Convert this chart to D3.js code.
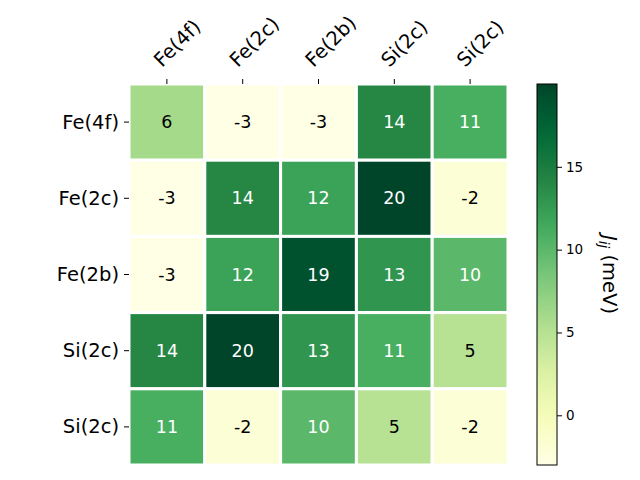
<!DOCTYPE html>
<html>
<head>
<meta charset="utf-8">
<script src="https://cdn.jsdelivr.net/npm/d3@7"></script>
<style>
  body { margin: 0; background: #fff; }
  text { font-family: "DejaVu Sans", sans-serif; }
</style>
</head>
<body>
<svg id="canvas" width="640" height="480"></svg>
<script>
const rowLabels = ["Fe(4f)", "Fe(2c)", "Fe(2b)", "Si(2c)", "Si(2c)"];
const colLabels = ["Fe(4f)", "Fe(2c)", "Fe(2b)", "Si(2c)", "Si(2c)"];
const values = [
  [6, -3, -3, 14, 11],
  [-3, 14, 12, 20, -2],
  [-3, 12, 19, 13, 10],
  [14, 20, 13, 11, 5],
  [11, -2, 10, 5, -2]
];
const cbTicks = [0, 5, 10, 15];
const vmin = -3, vmax = 20;

// matplotlib YlGn, linear segments
const ylgn = ["#ffffe5", "#f7fcb9", "#d9f0a3", "#addd8e", "#78c679", "#41ab5d", "#238443", "#006837", "#004529"];
const cmap = d3.scaleLinear()
  .domain(ylgn.map((d, i) => i / (ylgn.length - 1)))
  .range(ylgn)
  .interpolate(d3.interpolateRgb);
const norm = d3.scaleLinear().domain([vmin, vmax]).range([0, 1]).clamp(true);
const color = v => cmap(norm(v));

const svg = d3.select("#canvas");

const plotLeft = 129, plotTop = 84, plotW = 379, plotH = 381;

const x = d3.scaleBand().domain(d3.range(colLabels.length)).range([plotLeft, plotLeft + plotW]);
const y = d3.scaleBand().domain(d3.range(rowLabels.length)).range([plotTop, plotTop + plotH]);

const cells = [];
values.forEach((row, i) => row.forEach((v, j) => cells.push({ i, j, v })));

svg.append("g").selectAll("rect")
  .data(cells)
  .join("rect")
  .attr("x", d => x(d.j))
  .attr("y", d => y(d.i))
  .attr("width", x.bandwidth())
  .attr("height", y.bandwidth())
  .attr("fill", d => color(d.v))
  .attr("stroke", "white")
  .attr("stroke-width", 3);

svg.append("g").selectAll("text")
  .data(cells)
  .join("text")
  .attr("x", d => x(d.j) + x.bandwidth() / 2)
  .attr("y", d => y(d.i) + y.bandwidth() / 2)
  .attr("text-anchor", "middle")
  .attr("dominant-baseline", "central")
  .attr("font-size", "17.5px")
  .attr("fill", d => norm(d.v) > 0.5 ? "white" : "black")
  .text(d => d.v);

// top axis
const xAxis = svg.append("g");
colLabels.forEach((lab, j) => {
  const cx = x(j) + x.bandwidth() / 2;
  xAxis.append("line")
    .attr("x1", cx).attr("x2", cx)
    .attr("y1", plotTop - 5).attr("y2", plotTop)
    .attr("stroke", "black");
  xAxis.append("text")
    .attr("transform", `translate(${cx - 5}, ${plotTop - 16}) rotate(-45)`)
    .attr("font-size", "19.5px")
    .text(lab);
});

// left axis
const yAxis = svg.append("g");
rowLabels.forEach((lab, i) => {
  const cy = y(i) + y.bandwidth() / 2;
  yAxis.append("line")
    .attr("x1", plotLeft - 5).attr("x2", plotLeft)
    .attr("y1", cy).attr("y2", cy)
    .attr("stroke", "black");
  yAxis.append("text")
    .attr("x", plotLeft - 10)
    .attr("y", cy)
    .attr("text-anchor", "end")
    .attr("dominant-baseline", "central")
    .attr("font-size", "19.5px")
    .text(lab);
});

// colorbar
const cbX = 537, cbW = 20;
const cbScale = d3.scaleLinear().domain([vmin, vmax]).range([plotTop + plotH, plotTop]);
const grad = svg.append("defs").append("linearGradient")
  .attr("id", "cbgrad")
  .attr("x1", 0).attr("y1", 1).attr("x2", 0).attr("y2", 0);
d3.range(0, 1.0001, 0.05).forEach(t => {
  grad.append("stop").attr("offset", t).attr("stop-color", cmap(t));
});
svg.append("rect")
  .attr("x", cbX).attr("y", plotTop)
  .attr("width", cbW).attr("height", plotH)
  .attr("fill", "url(#cbgrad)")
  .attr("stroke", "black")
  .attr("stroke-width", 1);

const cbAxis = svg.append("g")
  .attr("transform", `translate(${cbX + cbW}, 0)`)
  .call(d3.axisRight(cbScale).tickValues(cbTicks).tickSize(5).tickPadding(4));
cbAxis.select(".domain").remove();
cbAxis.selectAll("text").attr("font-size", "13.5px").attr("font-family", "DejaVu Sans, sans-serif");

const cbLabel = svg.append("text")
  .attr("transform", `translate(603, ${plotTop + plotH / 2}) rotate(90)`)
  .attr("text-anchor", "middle")
  .attr("font-size", "19.5px");
cbLabel.append("tspan").attr("font-style", "italic").text("J");
cbLabel.append("tspan").attr("font-style", "italic").attr("font-size", "13.5px").attr("dy", 4).text("ij");
cbLabel.append("tspan").attr("dy", -4).text(" (meV)");
</script>
</body>
</html>
